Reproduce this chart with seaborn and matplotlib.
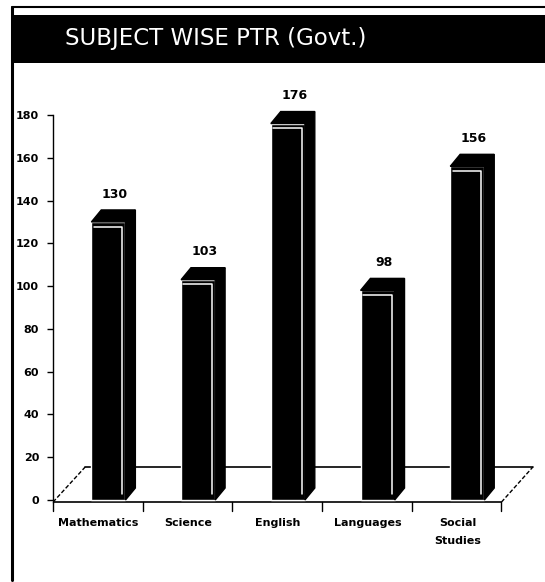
import matplotlib
matplotlib.use("Agg")
import matplotlib.pyplot as plt
import seaborn as sns
import pandas as pd
import numpy as np
from matplotlib.patches import Polygon, Rectangle
from matplotlib.lines import Line2D

categories = ["Mathematics", "Science", "English", "Languages", "Social\nStudies"]
values = [130, 103, 176, 98, 156]
y_ticks = [0, 20, 40, 60, 80, 100, 120, 140, 160, 180]
title = "SUBJECT WISE PTR (Govt.)"

sns.set_theme(style="white")
plt.rcParams['font.family'] = ['DejaVu Sans']

W, H = 545, 582
fig = plt.figure(figsize=(W / 100, H / 100), dpi=100)

# axes placement in pixels
ax_l, ax_r, ax_b, ax_t = 53, 540, 505, 100
ax = fig.add_axes([ax_l / W, (H - ax_b) / H, (ax_r - ax_l) / W, (ax_b - ax_t) / H])

df = pd.DataFrame({"cat": categories, "val": values})
bw = 0.38
sns.barplot(data=df, x="cat", y="val", color="black", width=bw, ax=ax,
            saturation=1, zorder=3)

ax.set_xlim(-0.618, 4.81)
ax.set_ylim(-2.34, 187)

# 3D floor
floor_front = -1.0
floor_back = 15.4
ax.add_line(Line2D([-0.618, 4.38], [floor_front, floor_front], color="black", lw=1.2, zorder=1))
ax.add_line(Line2D([-0.26, 4.73], [floor_back, floor_back], color="black", lw=1.2, zorder=1))
ax.add_line(Line2D([-0.618, -0.26], [floor_front, floor_back], color="black", lw=1.0, ls=(0, (3, 1.5)), zorder=1))
ax.add_line(Line2D([4.38, 4.73], [floor_front, floor_back], color="black", lw=1.0, ls=(0, (3, 1.5)), zorder=1))
# x tick marks along the front edge
for k in range(5):
    xx = 0.38 + k
    ax.add_line(Line2D([xx, xx], [floor_front, floor_front - 4], color="black", lw=1.0,
                       zorder=1, clip_on=False))
ax.add_line(Line2D([-0.618, -0.618], [floor_front, floor_front - 4], color="black", lw=1.0,
                   zorder=1, clip_on=False))

# 3D depth on bars
dx, dy = 0.11, 5.6
for i, v in enumerate(values):
    l, r = i - bw / 2, i + bw / 2
    top = Polygon([[l, v], [l + dx, v + dy], [r + dx, v + dy], [r, v]], closed=True,
                  facecolor="black", edgecolor="black", lw=1, zorder=4)
    side = Polygon([[r, 0], [r, v], [r + dx, v + dy], [r + dx, dy]], closed=True,
                   facecolor="black", edgecolor="black", lw=1, zorder=4)
    ax.add_patch(top)
    ax.add_patch(side)
    ax.add_line(Line2D([l + 0.025, r - 0.035, r - 0.035], [v - 2.2, v - 2.2, 3],
                       color="white", lw=1.1, zorder=5))
    ax.text(i + 0.07, v + 13, str(v), ha="center", va="center", fontsize=9,
            fontweight="bold", color="black", zorder=6)

# axis styling
for s in ["top", "right", "bottom"]:
    ax.spines[s].set_visible(False)
ax.spines["left"].set_color("black")
ax.spines["left"].set_linewidth(1.0)
ax.spines["left"].set_linestyle((0, (1, 1)))
ax.spines["left"].set_bounds(floor_front, 180)
ax.set_yticks(y_ticks)
ax.set_yticklabels([str(t) for t in y_ticks], fontsize=8, fontweight="bold", color="black")
ax.tick_params(axis="y", left=True, length=4, width=1, color="black", pad=6)
ax.set_xticks(np.arange(len(categories)) - 0.11)
ax.set_xticklabels(categories, fontsize=8, fontweight="bold", color="black",
                   linespacing=2.0, va="top")
ax.tick_params(axis="x", bottom=False, length=0, pad=9)
ax.set_xlabel("")
ax.set_ylabel("")
ax.grid(False)

# title banner and frame (figure pixels)
def px(x, y):
    return x / W, 1 - y / H

fig.patches.append(Rectangle(px(12, 63), (545 - 12) / W, (63 - 15) / H,
                             transform=fig.transFigure, facecolor="black",
                             edgecolor="none", zorder=0))
fig.lines.append(Line2D([12 / W, 1], [1 - 7 / H, 1 - 7 / H], transform=fig.transFigure,
                        color="black", lw=1.5))
fig.lines.append(Line2D([12 / W, 12 / W], [1 - 7 / H, 1 - 580 / H], transform=fig.transFigure,
                        color="black", lw=2.2))
tx, ty = px(216, 39)
fig.text(tx, ty, title, ha="center", va="center", color="white", fontsize=16.5,
         family=["DejaVu Sans"])

fig.savefig("out.png", dpi=100, facecolor="white")
